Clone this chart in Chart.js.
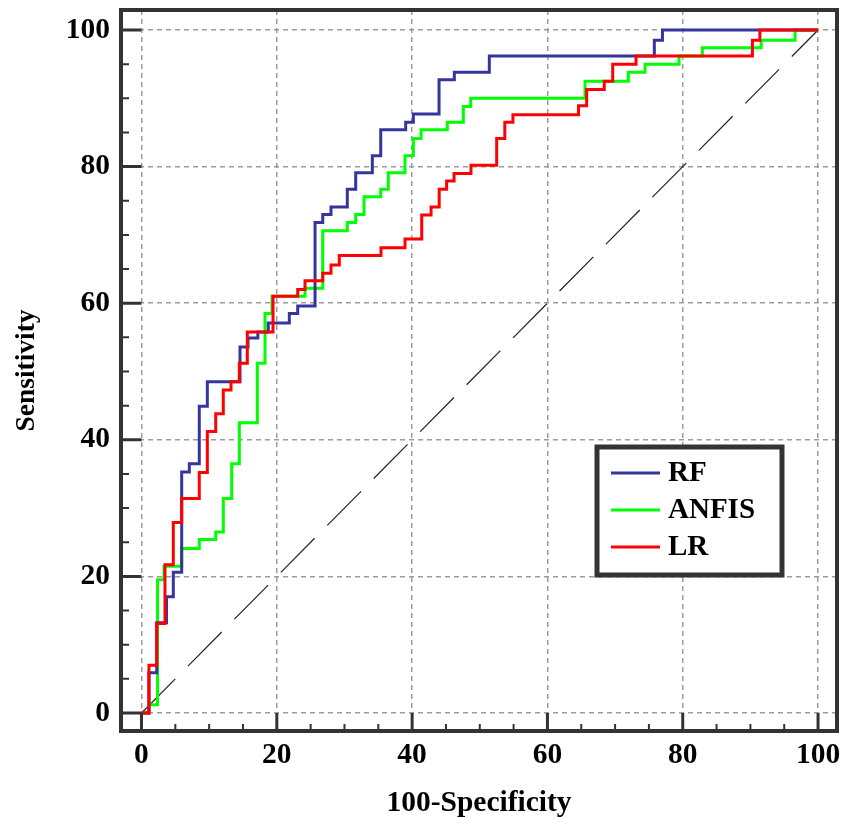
<!DOCTYPE html>
<html>
<head>
<meta charset="utf-8">
<script src="https://cdn.jsdelivr.net/npm/chart.js@4.4.1/dist/chart.umd.min.js"></script>
<style>
  html, body { margin: 0; padding: 0; background: #fff; }
  #wrap { width: 843px; height: 818px; }
</style>
</head>
<body>
<div id="wrap"><canvas id="rocChart" width="843" height="818"></canvas></div>
<script>
const ctx = document.getElementById("rocChart");

const serieNomes = ["RF", "ANFIS", "LR"];
const xTicks = [0, 20, 40, 60, 80, 100];
const yTicks = [0, 20, 40, 60, 80, 100];

// curvas em escada: cada ponto = topo de um degrau vertical
const rfX = [0, 1.1, 2.25, 3.7, 4.7, 5.94, 7.07, 8.54, 9.73, 14.56, 15.74, 17.2, 18.74, 21.85, 23.09, 25.65, 26.79, 28.01, 30.42, 31.66, 34.12, 35.36, 39.05, 40.18, 43.98, 46.24, 51.41, 75.8, 77.0, 100];
const rfY = [0, 5.9, 13.2, 17.0, 20.6, 35.3, 36.5, 44.9, 48.5, 53.6, 54.9, 55.8, 57.1, 58.5, 59.6, 71.8, 73.0, 74.1, 76.7, 79.1, 81.6, 85.4, 86.5, 87.7, 92.7, 93.8, 96.2, 98.5, 100, 100];

const anfisX = [0, 1.1, 2.37, 3.33, 5.94, 8.54, 10.97, 12.09, 13.33, 14.46, 17.12, 18.26, 19.3, 24.17, 26.79, 30.42, 31.66, 32.89, 35.36, 36.48, 38.95, 40.18, 41.32, 45.2, 47.57, 48.66, 65.56, 71.96, 74.43, 79.45, 82.9, 91.6, 96.6, 100];
const anfisY = [0, 1.2, 19.5, 21.5, 24.1, 25.4, 26.5, 31.4, 36.5, 42.5, 51.2, 58.5, 61.0, 62.2, 70.6, 71.8, 73.0, 75.6, 76.7, 79.1, 81.6, 84.1, 85.4, 86.5, 88.8, 90.0, 92.5, 93.8, 95.0, 96.2, 97.4, 98.5, 100, 100];

const lrX = [0, 1.1, 2.25, 3.47, 4.7, 5.94, 8.54, 9.73, 10.97, 12.09, 13.23, 14.46, 15.64, 19.44, 23.09, 24.17, 26.79, 28.01, 29.24, 35.4, 38.95, 41.42, 42.8, 44.0, 45.1, 46.2, 48.7, 52.5, 53.7, 54.9, 64.6, 65.8, 68.4, 69.65, 73.1, 90.3, 91.4, 100];
const lrY = [0, 7.0, 13.1, 21.7, 27.9, 31.4, 35.2, 41.2, 43.8, 47.3, 48.5, 51.2, 55.8, 61.0, 62.0, 63.3, 64.4, 65.6, 67.0, 68.1, 69.4, 72.9, 74.1, 76.7, 77.9, 79.0, 80.2, 84.1, 86.5, 87.6, 88.9, 91.3, 92.5, 95.0, 96.2, 98.5, 100, 100];

const diagX = [0, 100];
const diagY = [0, 100];

const cores = { RF: "#35359c", ANFIS: "#00ff00", LR: "#ff0000" };
const familia = "'Liberation Serif', 'Times New Roman', serif";
const fonteTicks = { family: familia, size: 29.5, weight: "bold" };

const pontos = (xs, ys) => xs.map((v, i) => ({ x: v, y: ys[i] }));

// moldura, ticks internos e legenda em caixa
const molduraPlugin = {
  id: "moldura",
  afterDraw(chart) {
    const { ctx: c, chartArea: a, scales: { x, y } } = chart;
    c.save();
    c.strokeStyle = "#333";
    c.lineCap = "butt";
    const x0 = x.getPixelForValue(0);
    const y0 = y.getPixelForValue(0);
    for (let v = 0; v <= 100; v += 5) {
      const major = v % 20 === 0;
      c.lineWidth = major ? 3 : 2;
      const py = y.getPixelForValue(v);
      const px = x.getPixelForValue(v);
      c.beginPath();
      c.moveTo(a.left, py);
      c.lineTo(major ? x0 : a.left + 8, py);
      c.moveTo(px, a.bottom);
      c.lineTo(px, major ? y0 : a.bottom - 7);
      c.stroke();
    }
    c.lineWidth = 4;
    c.strokeRect(a.left, a.top, a.right - a.left, a.bottom - a.top);

    // legenda
    const lx = a.left + 476, ly = a.top + 437, lw = 185, lh = 128;
    c.fillStyle = "#fff";
    c.fillRect(lx, ly, lw, lh);
    c.lineWidth = 5;
    c.strokeStyle = "#333";
    c.strokeRect(lx, ly, lw, lh);
    c.font = "bold 29px " + familia;
    c.textBaseline = "middle";
    c.fillStyle = "#000";
    serieNomes.forEach((nome, i) => {
      const yy = ly + 26 + i * 37;
      c.strokeStyle = cores[nome];
      c.lineWidth = 3;
      c.beginPath();
      c.moveTo(lx + 14, yy);
      c.lineTo(lx + 63, yy);
      c.stroke();
      c.fillText(nome, lx + 71, yy + 1);
    });
    c.restore();
  }
};

const grade = { color: "#9c9c9c", lineWidth: 1.5, drawTicks: false };
const borda = { display: false, dash: [5, 4] };

new Chart(ctx, {
  type: "line",
  data: {
    datasets: [
      { label: "LR", data: pontos(lrX, lrY), borderColor: cores.LR, borderWidth: 3, stepped: "before", pointRadius: 0, order: 1 },
      { label: "RF", data: pontos(rfX, rfY), borderColor: cores.RF, borderWidth: 3, stepped: "before", pointRadius: 0, order: 2 },
      { label: "ANFIS", data: pontos(anfisX, anfisY), borderColor: cores.ANFIS, borderWidth: 3, stepped: "before", pointRadius: 0, order: 3 },
      { label: "diag", data: pontos(diagX, diagY), borderColor: "#222", borderWidth: 1.2, borderDash: [48, 18], pointRadius: 0, order: 4 }
    ]
  },
  options: {
    responsive: false,
    animation: false,
    layout: { padding: { top: 10, right: 6, left: 0, bottom: 0 } },
    plugins: { legend: { display: false }, tooltip: { enabled: false } },
    scales: {
      x: {
        type: "linear",
        min: -3.03,
        max: 102.8,
        afterBuildTicks: s => { s.ticks = xTicks.map(v => ({ value: v })); },
        afterFit: s => { s.height = 87; s.paddingLeft = 0; s.paddingRight = 0; },
        grid: grade,
        border: borda,
        ticks: { color: "#000", font: fonteTicks, padding: 7, autoSkip: false, maxRotation: 0 },
        title: { display: true, text: "100-Specificity", color: "#000", font: { family: familia, size: 29.5, weight: "bold", lineHeight: 1 }, padding: { top: 0, bottom: 0 } }
      },
      y: {
        type: "linear",
        min: -2.64,
        max: 102.93,
        afterBuildTicks: s => { s.ticks = yTicks.map(v => ({ value: v })); },
        afterFit: s => { s.width = 121; s.paddingTop = 0; s.paddingBottom = 0; },
        grid: grade,
        border: borda,
        ticks: { color: "#000", font: fonteTicks, padding: 11, autoSkip: false },
        title: { display: true, text: "Sensitivity", color: "#000", font: { family: familia, size: 27.5, weight: "bold" }, padding: { top: 10, bottom: 0 } }
      }
    }
  },
  plugins: [molduraPlugin]
});
</script>
</body>
</html>
